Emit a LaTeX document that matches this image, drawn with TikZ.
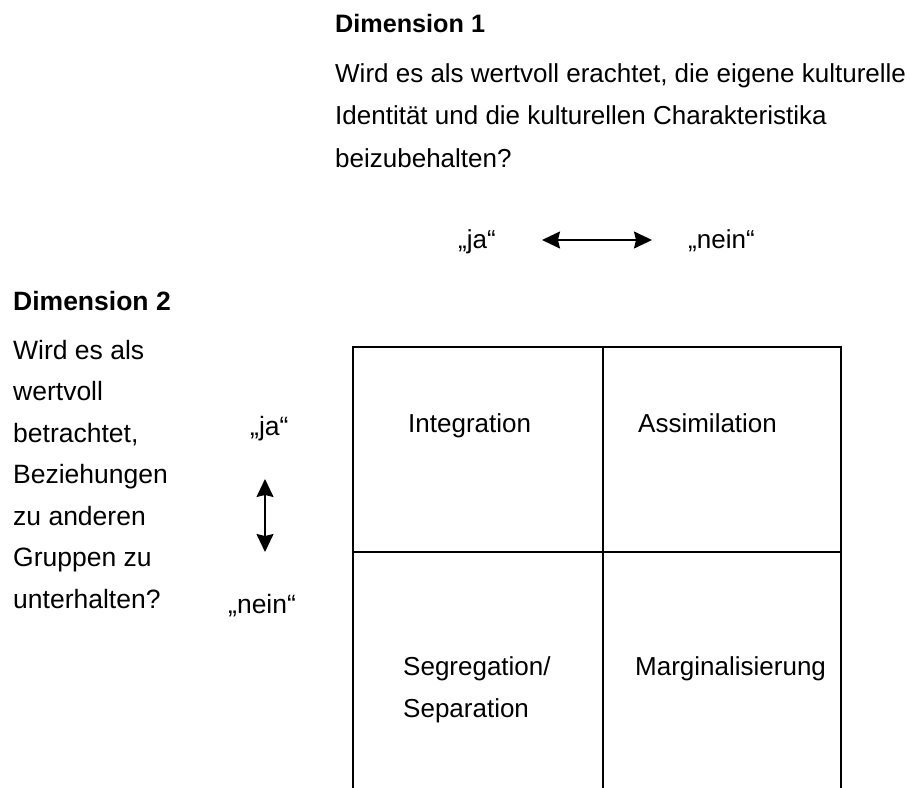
\documentclass[tikz,border=0pt]{standalone}
\usepackage{fontspec}
\setmainfont{Liberation Sans}
\usetikzlibrary{arrows.meta}

\begin{document}
\begin{tikzpicture}[x=1pt,y=-1pt]
    \def\topdist{42.5}
    \def\leftdist{41.5}
    \def\celldist{42}
    \tikzstyle{toptext}=[anchor=base west, inner sep=0pt, align=left, font=\fontsize{26}{\topdist}\selectfont]
    \tikzstyle{lefttext}=[anchor=base west, inner sep=0pt, align=left, font=\fontsize{26.5}{\leftdist}\selectfont]
    \tikzstyle{celltext}=[anchor=base west, inner sep=0pt, align=left, font=\fontsize{26}{\celldist}\selectfont]
    \tikzstyle{arrow}=[{Stealth[length=18pt,width=17pt,inset=2pt]}-{Stealth[length=18pt,width=17pt,inset=2pt]}, line width=1.5pt]
    \tikzstyle{gridline}=[line width=1.9pt]

    \useasboundingbox (0,0) rectangle (910,787);

    % dimension 1
    \node (dim1) [toptext, font=\fontsize{25.2}{\topdist}\selectfont\bfseries] at (335,32) {Dimension 1};
    \node (q1) [toptext] at (335,167) {Wird es als wertvoll erachtet, die eigene kulturelle\\Identität und die kulturellen Charakteristika\\beizubehalten?};
    \node (ja1) [toptext] at (458,248) {„ja“};
    \node (nein1) [toptext] at (688,248) {„nein“};

    % dimension 2
    \node (dim2) [lefttext, font=\fontsize{26.5}{\leftdist}\selectfont\bfseries] at (13,310) {Dimension 2};
    \node (q2) [lefttext] at (13,608) {Wird es als\\wertvoll\\betrachtet,\\Beziehungen\\zu anderen\\Gruppen zu\\unterhalten?};
    \node (ja2) [lefttext] at (250,435) {„ja“};
    \node (nein2) [lefttext] at (228,613) {„nein“};

    % arrows
    \coordinate (a1) at (542,240);
    \coordinate (b1) at (652,240);
    \coordinate (a2) at (265,479);
    \coordinate (b2) at (265,552);
    \draw[arrow] (a1) -- (b1);
    \draw[arrow] (a2) -- (b2);

    % grid
    \coordinate (tl) at (353,347);
    \coordinate (tm) at (603,347);
    \coordinate (tr) at (841,347);
    \coordinate (ml) at (353,552);
    \coordinate (mr) at (841,552);
    \coordinate (bl) at (353,792);
    \coordinate (bm) at (603,792);
    \coordinate (br) at (841,792);
    \draw[gridline] (bl) -- (tl) -- (tr) -- (br);
    \draw[gridline] (tm) -- (bm);
    \draw[gridline] (ml) -- (mr);

    % cells
    \node (integ) [celltext] at (408,432) {Integration};
    \node (assim) [celltext] at (638,432) {Assimilation};
    \node (segr) [celltext] at (403,717) {Segregation/\\Separation};
    \node (marg) [celltext] at (635,675) {Marginalisierung};
\end{tikzpicture}
\end{document}
